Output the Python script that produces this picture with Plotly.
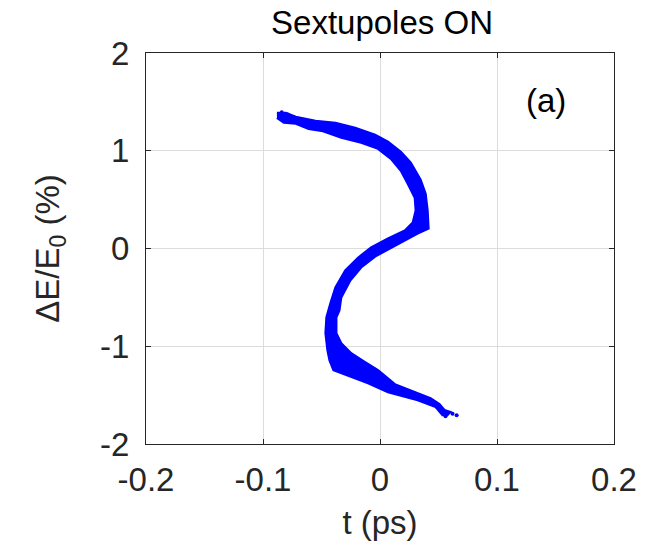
import plotly.graph_objects as go

# Outline of the particle distribution band (t in ps, dE/E0 in %)
# Side A: top edge of the upper tail -> outer right bulge -> lower edge of diagonal -> inner lower bulge -> top of bottom tail
side_a_t = [-0.0881, -0.0805, -0.0720, -0.0610, -0.0551, -0.0381, -0.0212, -0.0042, 0.0068, 0.0178,
            0.0263, 0.0347, 0.0390, 0.0407, 0.0415, 0.0322, 0.0178, 0.0042, -0.0042, -0.0161,
            -0.0254, -0.0331, -0.0347, -0.0373, -0.0373, -0.0331, -0.0246, -0.0127, -0.0017, 0.0127,
            0.0297, 0.0432, 0.0508, 0.0551, 0.0602]
side_a_e = [1.388, 1.388, 1.347, 1.316, 1.306, 1.286, 1.235, 1.163, 1.092, 0.990,
            0.878, 0.704, 0.561, 0.388, 0.204, 0.153, 0.061, -0.020, -0.082, -0.194,
            -0.327, -0.500, -0.633, -0.704, -0.867, -0.969, -1.071, -1.163, -1.245, -1.388,
            -1.469, -1.531, -1.592, -1.653, -1.673]
# Side B: bottom edge of the upper tail -> inner right bulge -> upper edge of diagonal -> outer lower bulge -> bottom of tail
side_b_t = [-0.0881, -0.0822, -0.0720, -0.0610, -0.0500, -0.0331, -0.0161, -0.0017, 0.0093, 0.0178,
            0.0237, 0.0297, 0.0305, 0.0280, 0.0212, 0.0068, -0.0076, -0.0186, -0.0297, -0.0381,
            -0.0424, -0.0458, -0.0466, -0.0449, -0.0432, -0.0398, -0.0246, -0.0102, 0.0068, 0.0322,
            0.0475, 0.0534, 0.0576]
side_b_e = [1.337, 1.286, 1.276, 1.224, 1.204, 1.133, 1.082, 1.020, 0.918, 0.796,
            0.663, 0.520, 0.388, 0.265, 0.184, 0.102, 0.010, -0.092, -0.224, -0.398,
            -0.561, -0.704, -0.867, -1.041, -1.143, -1.245, -1.316, -1.378, -1.469, -1.551,
            -1.622, -1.704, -1.704]

# Stray particles at the tips
stray_t = [-0.0840, -0.0790, 0.0560, 0.0620, 0.0655]
stray_e = [1.395, 1.370, -1.715, -1.690, -1.705]

x_ticks = [-0.2, -0.1, 0, 0.1, 0.2]
x_tick_labels = ["-0.2", "-0.1", "0", "0.1", "0.2"]
y_ticks = [-2, -1, 0, 1, 2]
y_tick_labels = ["-2", "-1", "0", "1", "2"]

band_t = side_a_t + side_b_t[::-1]
band_e = side_a_e + side_b_e[::-1]

blue = "#0000ff"
ink = "#262626"
font = "Liberation Sans, Arial, sans-serif"

fig = go.Figure()
fig.add_trace(go.Scatter(x=band_t, y=band_e, mode="lines", fill="toself",
                         fillcolor=blue, line=dict(color=blue, width=2.2),
                         hoverinfo="skip", showlegend=False))
fig.add_trace(go.Scatter(x=stray_t, y=stray_e, mode="markers",
                         marker=dict(color=blue, size=4), showlegend=False))

axis_common = dict(showline=True, mirror="ticks", linecolor=ink, linewidth=1,
                   ticks="inside", ticklen=5, tickcolor=ink, tickwidth=1,
                   showgrid=True, gridcolor="#dcdcdc", gridwidth=1,
                   zeroline=False, tickfont=dict(family=font, size=33, color=ink))

fig.update_xaxes(range=[-0.2, 0.2], tickvals=x_ticks, ticktext=x_tick_labels,
                 ticklabelstandoff=6,
                 title=dict(text="t (ps)", font=dict(family=font, size=33, color=ink), standoff=14),
                 **axis_common)
fig.update_yaxes(range=[-2, 2], tickvals=y_ticks, ticktext=y_tick_labels,
                 ticklabelstandoff=9,
                 title=dict(text="ΔE/E<sub>0</sub> (%)", font=dict(family=font, size=33, color=ink), standoff=30),
                 **axis_common)

fig.add_annotation(x=0.142, y=1.51, text="(a)", showarrow=False,
                   font=dict(family=font, size=33, color="#000000"))

fig.update_layout(
    width=649, height=550,
    margin=dict(l=146, r=31, t=53, b=106),
    paper_bgcolor="white", plot_bgcolor="white",
    title=dict(text="Sextupoles ON", x=(146 + 618) / 2 / 649, xanchor="center",
               y=1 - 22 / 550, yanchor="middle",
               font=dict(family=font, size=33, color="#000000")),
)

fig.write_html("out.html")
